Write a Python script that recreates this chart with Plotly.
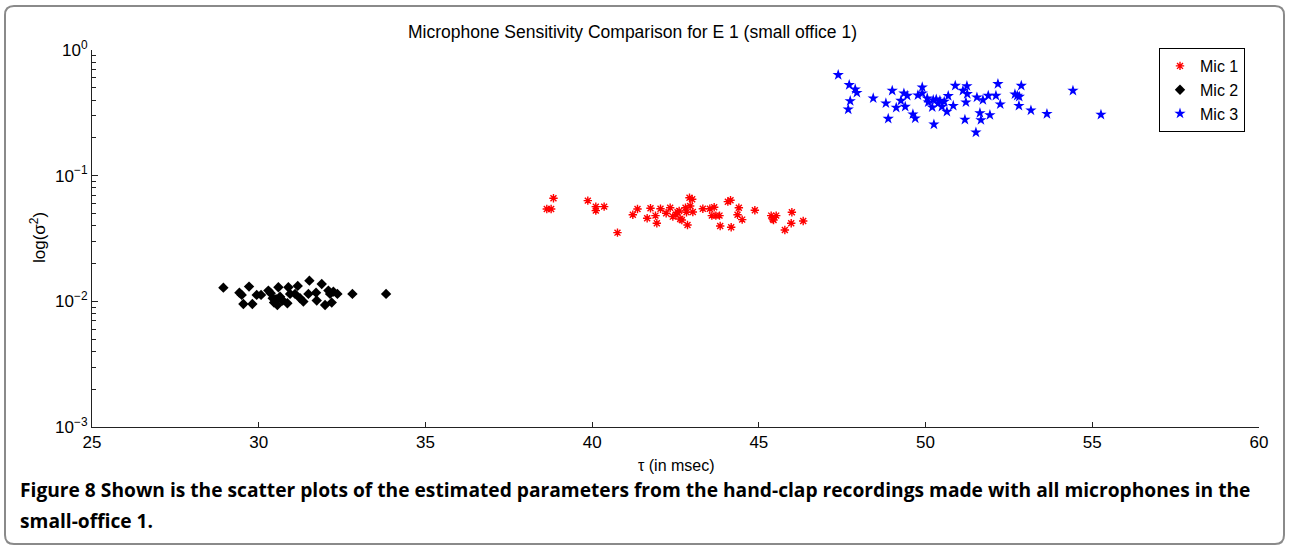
import plotly.graph_objects as go

# ---------------- data ----------------
mic1_tau = [38.84, 38.64, 38.77, 39.87, 40.11, 40.11, 40.36, 40.76, 41.22, 41.36,
            41.65, 41.75, 41.90, 41.94, 42.05, 42.22, 42.34, 42.42, 42.51, 42.56,
            42.61, 42.64, 42.69, 42.80, 42.83, 42.86, 42.92, 42.94, 43.00, 43.02,
            43.32, 43.53, 43.66, 43.59, 43.71, 43.82, 43.84, 44.07, 44.15, 44.17,
            44.36, 44.40, 44.50, 44.88, 45.37, 45.52, 45.42, 45.44, 45.78, 45.99,
            45.97, 46.33]
mic1_var = [0.0661, 0.0543, 0.0543, 0.0633, 0.0567, 0.0527, 0.0567, 0.0352, 0.0489, 0.0543,
            0.0458, 0.0550, 0.0481, 0.0418, 0.0546, 0.0502, 0.0556, 0.0472, 0.0489, 0.0511,
            0.0524, 0.0452, 0.0444, 0.0556, 0.0511, 0.0405, 0.0668, 0.0574, 0.0649, 0.0514,
            0.0546, 0.0546, 0.0561, 0.0481, 0.0481, 0.0481, 0.0398, 0.0621, 0.0637, 0.0389,
            0.0489, 0.0556, 0.0447, 0.0531, 0.0481, 0.0481, 0.0452, 0.0444, 0.0370, 0.0511,
            0.0418, 0.0436]

mic2_tau = [28.94, 29.42, 29.49, 29.71, 29.54, 29.81, 29.94, 30.07, 30.29, 30.36,
            30.42, 30.46, 30.52, 30.59, 30.56, 30.64, 30.72, 30.86, 30.89, 30.94,
            31.09, 31.17, 31.24, 31.34, 31.49, 31.52, 31.72, 31.74, 31.89, 32.09,
            32.14, 32.19, 31.99, 32.24, 32.36, 32.81, 33.82]
mic2_var = [0.01285, 0.01172, 0.01125, 0.01310, 0.00953, 0.00953, 0.01125, 0.01125, 0.01217, 0.01159,
            0.01059, 0.00977, 0.01040, 0.01295, 0.00936, 0.01090, 0.01014, 0.00966, 0.01295, 0.01146,
            0.01146, 0.01327, 0.01059, 0.00995, 0.01146, 0.01461, 0.01172, 0.01014, 0.01375, 0.01217,
            0.01146, 0.00977, 0.00936, 0.01194, 0.01146, 0.01146, 0.01146]

mic3_tau = [47.38, 47.71, 47.89, 47.94, 47.74, 47.68, 48.43, 48.81, 49.00, 48.88,
            49.12, 49.26, 49.35, 49.45, 49.39, 49.62, 49.69, 49.77, 49.90, 49.90,
            50.05, 50.08, 50.20, 50.23, 50.32, 50.38, 50.43, 50.49, 50.56, 50.64,
            50.68, 50.25, 50.83, 50.89, 51.12, 51.24, 51.25, 51.21, 51.18, 51.54,
            51.72, 51.63, 51.66, 51.51, 51.88, 51.93, 52.11, 52.17, 52.24, 52.68,
            52.75, 52.81, 52.87, 52.80, 53.16, 53.64, 54.42, 55.26]
mic3_var = [0.633, 0.527, 0.487, 0.457, 0.393, 0.337, 0.413, 0.377, 0.475, 0.284,
            0.348, 0.395, 0.452, 0.433, 0.354, 0.308, 0.286, 0.436, 0.505, 0.452,
            0.413, 0.384, 0.350, 0.400, 0.405, 0.377, 0.395, 0.354, 0.388, 0.323,
            0.431, 0.256, 0.360, 0.520, 0.475, 0.517, 0.447, 0.384, 0.279, 0.420,
            0.400, 0.315, 0.277, 0.221, 0.433, 0.304, 0.433, 0.537, 0.370, 0.444,
            0.433, 0.425, 0.520, 0.360, 0.331, 0.310, 0.475, 0.306]

x_ticks = [25, 30, 35, 40, 45, 50, 55, 60]
y_ticks = [1e-3, 1e-2, 1e-1, 1e0]
y_tick_labels = ["10<sup>\u22123</sup>", "10<sup>\u22122</sup>", "10<sup>\u22121</sup>", "10<sup>0</sup>"]
y_minor = [m * 10 ** e for e in (-3, -2, -1) for m in range(2, 10)]

title_text = "Microphone Sensitivity Comparison for E 1 (small office 1)"
caption_1 = "Figure 8 Shown is the scatter plots of the estimated parameters from the hand-clap recordings made with all microphones in the"
caption_2 = "small-office 1."

# ---------------- layout geometry ----------------
W, H = 1290, 550
L, R, T, B = 92, 1259, 50, 427   # plot area in pixels
PW, PH = R - L, B - T


def px(x):
    return (x - L) / PW


def py(y):
    return (B - y) / PH


FONT = "Liberation Sans, Arial, Helvetica, sans-serif"
CAP_FONT = "Open Sans, Lato, sans-serif"

fig = go.Figure()
fig.add_trace(go.Scatter(x=mic1_tau, y=mic1_var, mode="markers", name="Mic 1",
                         marker=dict(symbol="asterisk-open", size=7, color="#ff0000",
                                     line=dict(color="#ff0000", width=1.4))))
fig.add_trace(go.Scatter(x=mic2_tau, y=mic2_var, mode="markers", name="Mic 2",
                         marker=dict(symbol="diamond", size=8, color="#000000",
                                     line=dict(width=0))))
fig.add_trace(go.Scatter(x=mic3_tau, y=mic3_var, mode="markers", name="Mic 3",
                         marker=dict(symbol="star", size=8.5, color="#0000ff",
                                     line=dict(width=0))))

axis_font = dict(family=FONT, size=17, color="#000000")

fig.update_xaxes(range=[25, 60], tickvals=x_ticks, ticktext=[str(v) for v in x_ticks],
                 ticks="inside", ticklen=5, tickcolor="#222", showline=True,
                 linecolor="#222", linewidth=1, mirror=False, showgrid=False,
                 zeroline=False, tickfont=axis_font)
fig.update_yaxes(type="log", range=[-3, 0], tickvals=y_ticks, ticktext=y_tick_labels,
                 ticks="inside", ticklen=6, tickcolor="#222", showline=True,
                 linecolor="#222", linewidth=1, mirror=False, showgrid=False,
                 zeroline=False, tickfont=axis_font,
                 minor=dict(tickvals=y_minor, ticks="inside", ticklen=4,
                            tickcolor="#222", showgrid=False))

# rounded outer frame (pixel positions converted to paper coords)
x0, y0, x1, y1, r = 5, 6, 1284, 544, 9
frame = (f"M {px(x0 + r)} {py(y0)} L {px(x1 - r)} {py(y0)} "
         f"Q {px(x1)} {py(y0)} {px(x1)} {py(y0 + r)} "
         f"L {px(x1)} {py(y1 - r)} Q {px(x1)} {py(y1)} {px(x1 - r)} {py(y1)} "
         f"L {px(x0 + r)} {py(y1)} Q {px(x0)} {py(y1)} {px(x0)} {py(y1 - r)} "
         f"L {px(x0)} {py(y0 + r)} Q {px(x0)} {py(y0)} {px(x0 + r)} {py(y0)} Z")

fig.update_layout(
    width=W, height=H,
    margin=dict(l=L, r=W - R, t=T, b=H - B, pad=0),
    paper_bgcolor="white", plot_bgcolor="white",
    font=dict(family=FONT, size=16, color="#000"),
    showlegend=True,
    legend=dict(x=px(1159), y=py(48), xanchor="left", yanchor="top",
                bordercolor="#000", borderwidth=1, bgcolor="white",
                font=dict(family=FONT, size=16, color="#000"),
                itemwidth=30, tracegroupgap=0),
    shapes=[dict(type="path", path=frame, xref="paper", yref="paper",
                 line=dict(color="#8a8a8a", width=2), fillcolor="rgba(0,0,0,0)",
                 layer="below")],
    annotations=[
        dict(text=title_text, x=px(632), y=py(32), xref="paper", yref="paper",
             xanchor="center", yanchor="middle", showarrow=False,
             font=dict(family=FONT, size=17.5, color="#000")),
        dict(text="\u03c4 (in msec)", x=px(676), y=py(465), xref="paper", yref="paper",
             xanchor="center", yanchor="middle", showarrow=False,
             font=dict(family=FONT, size=16, color="#000")),
        dict(text="log(\u03c3<sup>2</sup>)", x=px(38), y=py(238), xref="paper", yref="paper",
             xanchor="center", yanchor="middle", showarrow=False, textangle=-90,
             font=dict(family=FONT, size=17, color="#000")),
        dict(text="<b>" + caption_1 + "</b>", x=px(18), y=py(489), xref="paper", yref="paper",
             xanchor="left", yanchor="middle", showarrow=False,
             font=dict(family=CAP_FONT, size=19.2, color="#000")),
        dict(text="<b>" + caption_2 + "</b>", x=px(18), y=py(520), xref="paper", yref="paper",
             xanchor="left", yanchor="middle", showarrow=False,
             font=dict(family=CAP_FONT, size=19.2, color="#000")),
    ],
)

fig.write_html("out.html")
